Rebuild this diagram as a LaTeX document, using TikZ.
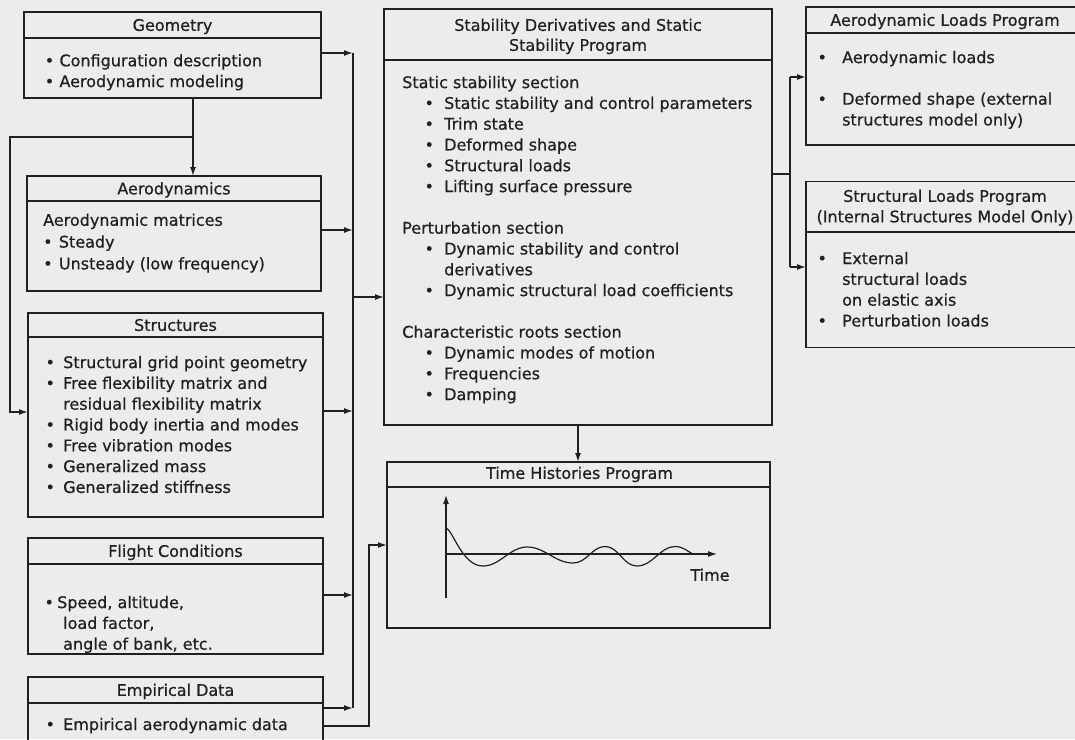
\documentclass[tikz,border=0pt]{standalone}
\usepackage{fontspec}
\setmainfont{DejaVu Sans}[FakeBold=0.6]
\usetikzlibrary{arrows.meta}
\definecolor{paper}{RGB}{236,236,234}
\definecolor{ink}{RGB}{32,32,32}
\newcommand\bulw[1]{\strut\makebox[#1][l]{\textbullet}}
\tikzset{
 box/.style={draw=ink, line width=1.5pt, inner sep=0pt, outer sep=0pt},
 ttl/.style={text=ink, inner sep=0pt, text height=11.7pt, text depth=0pt, font=\fontsize{16}{20.8}\selectfont},
 body/.style={text=ink, inner sep=0pt, anchor=north west, align=left, font=\fontsize{16}{20.8}\selectfont},
 wire/.style={draw=ink, line width=1.5pt},
 arr/.style={wire, -{Latex[length=9pt,width=6pt]}},
}
\begin{document}
\begin{tikzpicture}[x=1pt,y=-1pt]
\useasboundingbox (0,0) rectangle (1075,739);
\clip (0,0) rectangle (1075,739);
\fill[paper] (0,0) rectangle (1075,739);

% boxes
\node[box, minimum width=297pt, minimum height=86pt]  (geo)    at (172.5,55) {};
\node[box, minimum width=294pt, minimum height=115pt] (aero)   at (174,233.5) {};
\node[box, minimum width=295pt, minimum height=204pt] (struct) at (175.5,415) {};
\node[box, minimum width=295pt, minimum height=116pt] (flight) at (175.5,596) {};
\node[box, minimum width=295pt, minimum height=83pt]  (emp)    at (175.5,718.5) {};
\node[box, minimum width=388pt, minimum height=416pt] (stab)   at (578,217) {};
\node[box, minimum width=383pt, minimum height=166pt] (time)   at (578.5,545) {};
\node[box, minimum width=290pt, minimum height=138pt] (aload)  at (951,76) {};
\node[box, minimum width=290pt, minimum height=166pt] (sload)  at (951,264.5) {};

% title dividers
\draw[wire] (geo.west |- 0,38) -- (geo.east |- 0,38);
\draw[wire] (aero.west |- 0,201) -- (aero.east |- 0,201);
\draw[wire] (struct.west |- 0,337) -- (struct.east |- 0,337);
\draw[wire] (flight.west |- 0,564) -- (flight.east |- 0,564);
\draw[wire] (emp.west |- 0,703) -- (emp.east |- 0,703);
\draw[wire] (stab.west |- 0,60) -- (stab.east |- 0,60);
\draw[wire] (time.west |- 0,487) -- (time.east |- 0,487);
\draw[wire] (aload.west |- 0,33) -- (aload.east |- 0,33);
\draw[wire] (sload.west |- 0,232) -- (sload.east |- 0,232);

% titles
\node[ttl] (geo-t)    at (172.5,25) {Geometry};
\node[ttl] (aero-t)   at (174,188.5) {Aerodynamics};
\node[ttl] (struct-t) at (175.5,325) {Structures};
\node[ttl] (flight-t) at (175.5,551) {Flight Conditions};
\node[ttl] (emp-t)    at (175.5,690) {Empirical Data};
\node[ttl] (stab-t1)  at (578,25) {Stability Derivatives and Static};
\node[ttl] (stab-t2)  at (578,45) {Stability Program};
\node[ttl] (time-t)   at (579.5,473) {Time Histories Program};
\node[ttl] (aload-t)  at (945,20) {Aerodynamic Loads Program};
\node[ttl] (sload-t1) at (945,196) {Structural Loads Program};
\node[ttl] (sload-t2) at (945,216.5) {(Internal Structures Model Only)};

% bodies
\node[body] (geo-b) at (44.6,51.5) {\bulw{14.7pt}Configuration description\\ \bulw{14.7pt}Aerodynamic modeling};
\node[body, font=\fontsize{16}{21.8}\selectfont] (aero-b) at (43,210.3) {\strut Aerodynamic matrices\\ \bulw{15.7pt}Steady\\ \bulw{15.7pt}Unsteady (low frequency)};
\node[body] (struct-b) at (45.3,353.3) {\bulw{17.7pt}Structural grid point geometry\\
 \bulw{17.7pt}Free flexibility matrix and\\
 \strut\hspace*{17.7pt}residual flexibility matrix\\
 \bulw{17.7pt}Rigid body inertia and modes\\
 \bulw{17.7pt}Free vibration modes\\
 \bulw{17.7pt}Generalized mass\\
 \bulw{17.7pt}Generalized stiffness};
\node[body] (flight-b) at (44.3,593.3) {\bulw{12.7pt}Speed, altitude,\\ \strut\hspace*{18.7pt}load factor,\\ \strut\hspace*{18.7pt}angle of bank, etc.};
\node[body] (emp-b) at (45.3,715.3) {\bulw{17.7pt}Empirical aerodynamic data};
\node[body] (stab-b) at (402,73.3) {\strut Static stability section\\
 \hspace*{22.3pt}\bulw{19.7pt}Static stability and control parameters\\
 \hspace*{22.3pt}\bulw{19.7pt}Trim state\\
 \hspace*{22.3pt}\bulw{19.7pt}Deformed shape\\
 \hspace*{22.3pt}\bulw{19.7pt}Structural loads\\
 \hspace*{22.3pt}\bulw{19.7pt}Lifting surface pressure\\
 \strut\\
 \strut Perturbation section\\
 \hspace*{22.3pt}\bulw{19.7pt}Dynamic stability and control\\
 \strut\hspace*{42pt}derivatives\\
 \hspace*{22.3pt}\bulw{19.7pt}Dynamic structural load coefficients\\
 \strut\\
 \strut Characteristic roots section\\
 \hspace*{22.3pt}\bulw{19.7pt}Dynamic modes of motion\\
 \hspace*{22.3pt}\bulw{19.7pt}Frequencies\\
 \hspace*{22.3pt}\bulw{19.7pt}Damping};
\node[body] (aload-b) at (817.3,48.3) {\bulw{24.7pt}Aerodynamic loads\\ \strut\\ \bulw{24.7pt}Deformed shape (external\\ \strut\hspace*{24.7pt}structures model only)};
\node[body] (sload-b) at (817.3,249.3) {\bulw{24.7pt}External\\ \strut\hspace*{24.7pt}structural loads\\ \strut\hspace*{24.7pt}on elastic axis\\ \bulw{24.7pt}Perturbation loads};

% time history sketch
\coordinate (ax0) at (446,598);
\coordinate (ax1) at (446,495);
\coordinate (org) at (446,554);
\coordinate (ax2) at (717,554);
\draw[arr, line width=1.2pt] (ax0) -- (ax1);
\draw[arr, line width=1.2pt] (org) -- (ax2);
\draw[wire, line width=1.2pt] (446,528) .. controls (453,530) and (462,566) .. (483,566)
  .. controls (500,566) and (510,547) .. (527,547)
  .. controls (545,547) and (555,563) .. (573,563)
  .. controls (587,563) and (592,546.5) .. (605,546.5)
  .. controls (619,546.5) and (623,566) .. (637,566)
  .. controls (653,566) and (660,546.5) .. (675,546.5)
  .. controls (683,546.5) and (687,551) .. (692,553.5);
\node[ttl] (time-l) at (710,575) {Time};

% connectors
\coordinate (bt) at (353,53);
\coordinate (bb) at (353,708);
\coordinate (j2) at (353,230);
\coordinate (j3) at (353,411);
\coordinate (j4) at (353,595);
\coordinate (j5) at (353,297);
\draw[wire] (bt) -- (bb);
\draw[arr] (geo.east |- bt) -- (bt);
\draw[arr] (aero.east |- j2) -- (j2);
\draw[arr] (struct.east |- j3) -- (j3);
\draw[arr] (flight.east |- j4) -- (j4);
\draw[arr] (emp.east |- bb) -- (bb);
\draw[arr] (j5) -- (stab.west |- j5);

\coordinate (e1) at (369,726);
\coordinate (e2) at (369,545);
\draw[arr] (emp.east |- e1) -- (e1) -- (e2) -- (time.west |- e2);

\coordinate (ga) at (193,137);
\coordinate (lb) at (10,137);
\coordinate (lc) at (10,412);
\draw[arr] (geo.south -| ga) -- (aero.north -| ga);
\draw[arr] (ga) -- (lb) -- (lc) -- (struct.west |- lc);

\draw[arr] (stab.south) -- (time.north -| stab.south);

\coordinate (br) at (790,174);
\coordinate (brt) at (790,77);
\coordinate (brb) at (790,267);
\draw[wire] (stab.east |- br) -- (br);
\draw[wire] (brt) -- (brb);
\draw[arr] (brt) -- (aload.west |- brt);
\draw[arr] (brb) -- (sload.west |- brb);
\end{tikzpicture}
\end{document}
